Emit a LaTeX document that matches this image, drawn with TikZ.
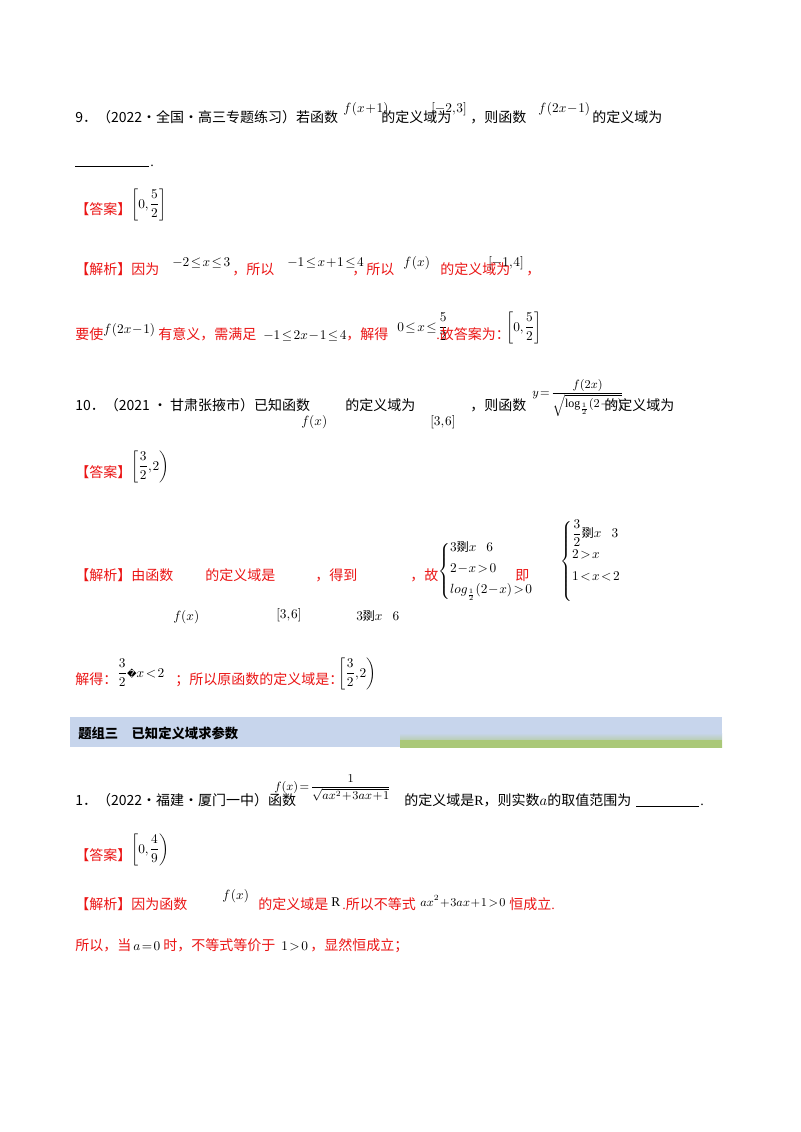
\documentclass[tikz,border=0pt]{standalone}
\usepackage{fontspec}
\usepackage{amsmath}
\setmainfont{Liberation Serif}
\newfontfamily\cjk{Noto Sans CJK SC}
\newfontfamily\dv{DejaVu Sans}
\definecolor{rd}{RGB}{235,20,20}
\definecolor{band}{RGB}{199,213,236}
\definecolor{grn}{RGB}{170,200,120}
\newcommand\tightm{\medmuskip=1mu\thickmuskip=2mu\thinmuskip=1mu}
\begin{document}
\begin{tikzpicture}[x=0.75pt,y=-0.75pt,
  t/.style={anchor=base west,inner sep=0pt,font=\fontsize{10.5pt}{12pt}\selectfont},
  r/.style={t,text=rd},
  m/.style={anchor=base west,inner sep=0pt,font=\fontsize{10pt}{11pt}\selectfont\tightm}]
\useasboundingbox[fill=white] (0,0) rectangle (800,1132);
% Q9
\node[t] (q9) at (75,122) {{\cjk 9．（2022·全国·高三专题练习）若函数}};
\node[m] (q9a) at (343,112) {$f\,(x+1)$};
\node[t] (q9b) at (381,122) {\cjk 的定义域为};
\node[m] (q9c) at (431,112) {$[-2,3]$};
\node[t] (q9d) at (470,122) {\cjk ，则函数};
\node[m] (q9e) at (538,112) {$f\,(2x-1)$};
\node[t] (q9f) at (592,122) {\cjk 的定义域为};
\draw (75,166) -- (149,166);
\node[t] (q9g) at (150,166) {.};
\node[r] (a9) at (75,214) {\cjk 【答案】};
\node[m] (a9b) at (131,208) {$\left[0,\dfrac52\right]$};
\node[r] (j9) at (75,274) {\cjk 【解析】因为};
\node[m] (j9a) at (172,266) {$-2\le x\le 3$};
\node[r] (j9b) at (232,274) {\cjk ，所以};
\node[m] (j9c) at (287,266) {$-1\le x+1\le 4$};
\node[r] (j9d) at (352,274) {\cjk ，所以};
\node[m] (j9e) at (403,266) {$f\,(x)$};
\node[r] (j9f) at (440,274) {\cjk 的定义域为};
\node[m] (j9g) at (488,266) {$[-1,4]$};
\node[r] (j9h) at (526,274) {\cjk ，};
\node[r] (k9) at (75,339) {\cjk 要使};
\node[m] (k9a) at (103,333) {$f\,(2x-1)$};
\node[r] (k9b) at (158,339) {\cjk 有意义，需满足};
\node[m] (k9c) at (263,339) {$-1\le 2x-1\le 4$};
\node[r] (k9d) at (346,339) {\cjk ，解得};
\node[m] (k9e) at (397,331) {$0\le x\le\dfrac52$};
\node[r] (k9f) at (436,339) {.{\cjk 故答案为：}};
\node[m] (k9g) at (506,331) {$\left[0,\dfrac52\right]$};
% Q10
\node[t] (q10) at (75,410) {{\cjk 10．（2021 • 甘肃张掖市）已知函数}};
\node[m] (q10a) at (301,425) {$f(x)$};
\node[t] (q10b) at (345,410) {\cjk 的定义域为};
\node[m] (q10c) at (430,425) {$[3,6]$};
\node[t] (q10d) at (470,410) {\cjk ，则函数};
\node[m,font=\fontsize{9pt}{10pt}\selectfont\tightm] (q10e) at (532,396) {$y=\dfrac{f(2x)}{\sqrt{\log_{\frac12}(2-x)}}$};
\node[t] (q10f) at (604,410) {\cjk 的定义域为};
\node[r] (a10) at (75,477) {\cjk 【答案】};
\node[m] (a10b) at (131,470) {$\left[\dfrac32,2\right)$};
\node[r] (j10) at (75,580) {\cjk 【解析】由函数};
\node[r] (j10b) at (205,580) {\cjk 的定义域是};
\node[r] (j10c) at (315,580) {\cjk ，得到};
\node[r] (j10d) at (410,580) {\cjk ，故};
\node[m] (j10e) at (173,620) {$f(x)$};
\node[m] (j10f) at (276,618) {$[3,6]$};
\node[m] (j10g) at (356,620) {$3${\cjk\fontsize{9pt}{10pt}\selectfont 剟}$x\ \ \ 6$};
\node[m] (sys1) at (438,575) {$\left\{\begin{array}{@{}l}3\text{\cjk\fontsize{9pt}{10pt}\selectfont 剟}x\ \ \ 6\\[5pt]2-x>0\\[5pt] log_{\frac12}(2-x)>0\\[3pt]\end{array}\right.$};
\node[r] (j10h) at (515,580) {\cjk 即};
\node[m] (sys2) at (560,565) {$\left\{\begin{array}{@{}l}\dfrac32\text{\cjk\fontsize{9pt}{10pt}\selectfont 剟}x\ \ \ 3\\[5pt]2>x\\[5pt]1<x<2\\[14pt]\end{array}\right.$};
\node[r] (k10) at (75,684) {\cjk 解得：};
\node[m] (k10a) at (117,677) {$\dfrac32${\dv\fontsize{7pt}{8pt}\selectfont �}$x<2$};
\node[r] (k10b) at (175,684) {\cjk ；所以原函数的定义域是：};
\node[m] (k10c) at (338,677) {$\left[\dfrac32,2\right)$};
% band
\fill[band] (70,717) rectangle (722,747);
\shade[top color=band,bottom color=grn] (400,733) rectangle (722,747);
\fill[grn] (400,740) rectangle (722,747);
\node[t,font=\fontsize{10pt}{12pt}\bfseries\cjk] (band) at (78,738) {题组三\quad 已知定义域求参数};
% Q1
\node[t] (q1) at (75,805) {{\cjk 1．（2022·福建·厦门一中）函数}};
\node[m,font=\fontsize{9pt}{10pt}\selectfont\tightm] (q1a) at (274,790) {$f(x)=\dfrac{1}{\sqrt{ax^2+3ax+1}}$};
\node[t] (q1b) at (404,805) {{\cjk 的定义域是}R{\cjk ，则实数}$a${\cjk 的取值范围为}};
\draw (636,806) -- (699,806);
\node[t] (q1c) at (700,805) {.};
\node[r] (a1) at (75,860) {\cjk 【答案】};
\node[m] (a1b) at (131,853) {$\left[0,\dfrac49\right)$};
\node[r] (j1) at (75,909) {\cjk 【解析】因为函数};
\node[m] (j1a) at (222,899) {$f\,(x)$};
\node[r] (j1b) at (258,909) {\cjk 的定义域是};
\node[m] (j1c) at (331,906) {R};
\node[r] (j1d) at (342,909) {.{\cjk 所以不等式}};
\node[m,font=\fontsize{9pt}{10pt}\selectfont\tightm] (j1e) at (420,906) {$ax^2+3ax+1>0$};
\node[r] (j1f) at (509,909) {{\cjk 恒成立}.};
\node[r] (k1) at (75,950) {\cjk 所以，当};
\node[m] (k1a) at (133,950) {$a=0$};
\node[r] (k1b) at (163,950) {\cjk 时，不等式等价于};
\node[m] (k1c) at (281,950) {$1>0$};
\node[r] (k1d) at (310,950) {\cjk ，显然恒成立；};
\end{tikzpicture}
\end{document}
